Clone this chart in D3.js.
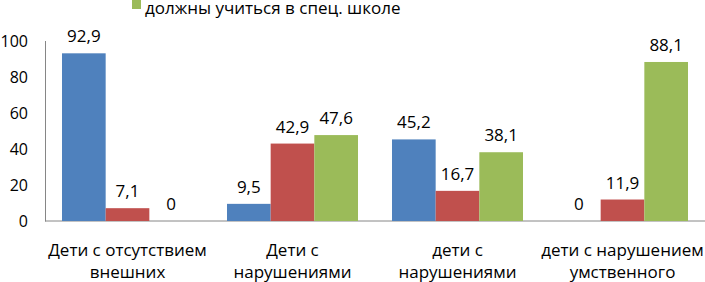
<!DOCTYPE html>
<html lang="ru">
<head>
<meta charset="UTF-8">
<title>Диаграмма</title>
<script src="https://cdnjs.cloudflare.com/ajax/libs/d3/7.8.5/d3.min.js"></script>
<style>
  body { margin: 0; background: #fff; }
  text { font-family: "Open Sans", "Noto Sans", sans-serif; fill: #000; }
</style>
</head>
<body>
<div id="wrapper"></div>
<script>
// данные
const categories = [
  ["Дети с отсутствием", "внешних"],
  ["Дети с", "нарушениями"],
  ["дети с", "нарушениями"],
  ["дети с нарушением", "умственного"]
]
const seriesNames = ["s1", "s2", "должны учиться в спец. школе"]
const series1 = [92.9, 9.5, 45.2, 0]
const series2 = [7.1, 42.9, 16.7, 11.9]
const series3 = [0, 47.6, 38.1, 88.1]
const yTicks = [0, 20, 40, 60, 80, 100]
const colors = ["#4f81bd", "#c0504d", "#9bbb59"]

const width = 705, height = 282
const margin = { top: 40.5, right: 0, bottom: 61, left: 45 }
const fontSize = '17px'

const svg = d3.select('#wrapper').append('svg')
  .attr('width', width)
  .attr('height', height)

const values = [series1, series2, series3]
const table = categories.map((c, i) => ({
  key: i,
  vals: values.map((s, j) => ({ series: j, value: s[i] }))
}))

const xScale = d3.scaleBand()
  .domain(d3.range(categories.length))
  .range([margin.left, width - margin.right])
  .paddingInner(0.206)
  .paddingOuter(0.103)

const xInner = d3.scaleBand()
  .domain(d3.range(values.length))
  .range([0, xScale.bandwidth()])

const yScale = d3.scaleLinear()
  .domain([0, 100])
  .range([height - margin.bottom, margin.top])

// оси
const yAxis = svg.append('g')
  .attr('transform', `translate(${margin.left},0)`)
  .call(d3.axisLeft(yScale).tickValues(yTicks).tickSize(0).tickPadding(17))
yAxis.select('.domain').attr('stroke', '#868686')
yAxis.selectAll('text')
  .style('font-family', '"Open Sans", sans-serif')
  .style('font-size', '16px')
  .attr('dy', '0.36em')

const xAxis = svg.append('g')
  .attr('transform', `translate(0,${yScale(0)})`)
  .call(d3.axisBottom(xScale).tickSize(0).tickFormat(''))
xAxis.select('.domain')
  .attr('stroke', '#868686')
  .attr('d', `M${margin.left},0H${width}`)

// подписи категорий
svg.append('g').selectAll('text')
  .data(categories)
  .join('text')
  .attr('x', (d, i) => xScale(i) + xScale.bandwidth() / 2)
  .attr('y', yScale(0) + 35)
  .attr('text-anchor', 'middle')
  .style('font-size', fontSize)
  .selectAll('tspan')
  .data(d => d)
  .join('tspan')
  .attr('x', function () { return this.parentNode.getAttribute('x') })
  .attr('dy', (d, i) => i === 0 ? 0 : 22)
  .text(d => d)

// столбцы
const groups = svg.append('g').selectAll('g')
  .data(table)
  .join('g')
  .attr('transform', d => `translate(${xScale(d.key)},0)`)

groups.selectAll('rect')
  .data(d => d.vals)
  .join('rect')
  .attr('x', d => xInner(d.series))
  .attr('y', d => yScale(d.value))
  .attr('width', xInner.bandwidth())
  .attr('height', d => yScale(0) - yScale(d.value))
  .attr('fill', d => colors[d.series])

groups.selectAll('text')
  .data(d => d.vals)
  .join('text')
  .attr('x', d => xInner(d.series) + xInner.bandwidth() / 2)
  .attr('y', d => yScale(d.value) - 11)
  .attr('text-anchor', 'middle')
  .style('font-size', fontSize)
  .text(d => d3.format('.1f')(d.value).replace('.', ',').replace(/,0$/, ''))

// легенда (видна только последняя строка)
const legend = svg.append('g').attr('transform', 'translate(132,0)')
legend.append('rect')
  .attr('x', 0).attr('y', -1)
  .attr('width', 9).attr('height', 10)
  .attr('fill', colors[2])
legend.append('text')
  .attr('x', 13).attr('y', 14)
  .style('font-size', fontSize)
  .text(seriesNames[2])
</script>
</body>
</html>
